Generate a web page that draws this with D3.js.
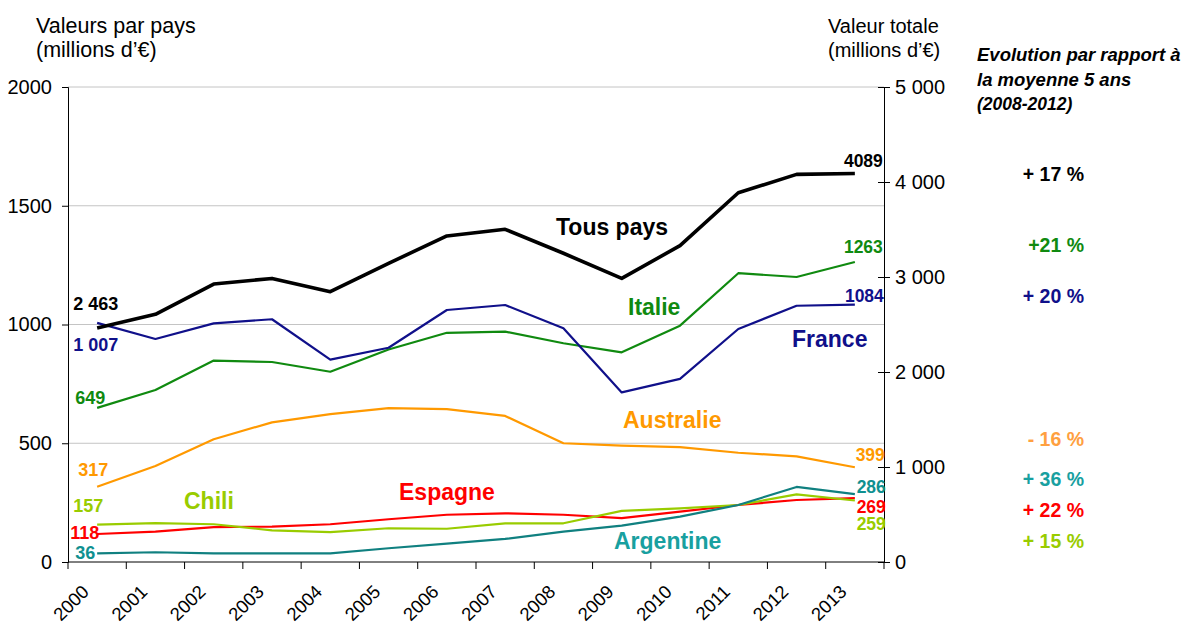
<!DOCTYPE html>
<html>
<head>
<meta charset="utf-8">
<script src="https://cdn.jsdelivr.net/npm/d3@7"></script>
<style>
  body { margin: 0; background: #fff; }
  svg text { font-family: "Liberation Sans", Arial, sans-serif; }
</style>
</head>
<body>
<svg id="chart" width="1197" height="624"></svg>
<script>
// donnees
const years = ["2000","2001","2002","2003","2004","2005","2006","2007","2008","2009","2010","2011","2012","2013"];
const tousPays  = [2463, 2607, 2926, 2985, 2845, 3144, 3432, 3502, 3250, 2986, 3330, 3887, 4080, 4089];
const italie    = [649, 724, 848, 842, 801, 895, 965, 970, 921, 883, 995, 1216, 1200, 1263];
const france    = [1007, 939, 1005, 1022, 852, 902, 1061, 1082, 984, 714, 771, 981, 1079, 1084];
const australie = [317, 404, 517, 588, 623, 648, 644, 615, 500, 490, 484, 460, 445, 399];
const espagne   = [118, 128, 147, 149, 159, 180, 199, 205, 199, 185, 212, 240, 261, 269];
const chili     = [157, 164, 159, 133, 126, 142, 140, 163, 163, 215, 226, 240, 285, 259];
const argentine = [36, 41, 36, 36, 36, 58, 77, 97, 128, 153, 191, 240, 316, 286];

const seriesNames = ["Australie", "Italie", "France", "Espagne", "Chili", "Argentine", "Tous pays"];
const firstLabels = ["317", "649", "1 007", "118", "157", "36", "2 463"];
const lastLabels  = ["399", "1263", "1084", "269", "259", "286", "4089"];
const evolution   = ["- 16 %", "+21 %", "+ 20 %", "+ 22 %", "+ 15 %", "+ 36 %", "+ 17 %"];
const leftTicks  = [0, 500, 1000, 1500, 2000];
const rightTicks = [0, 1000, 2000, 3000, 4000, 5000];

const values = [australie, italie, france, espagne, chili, argentine, tousPays];

// mise en forme
const styles = [
  {color: "#ff9900", text: "#ff9900", pct: "#ffa040", w: 2.2, right: false, name: [623, 428], first: [-19, -11], last: [30, -6], py: 446},
  {color: "#108a10", text: "#108a10", pct: "#108a10", w: 2.2, right: false, name: [628, 315], first: [-22, -4], last: [28, -9], py: 252},
  {color: "#10108a", text: "#10108a", pct: "#10108a", w: 2.2, right: false, name: [792, 347], first: [-24, 28], last: [29, -3], py: 303},
  {color: "#ff0000", text: "#ff0000", pct: "#ff0000", w: 2.2, right: false, name: [399, 500], first: [-27, 5], last: [31, 15], py: 517},
  {color: "#99cc00", text: "#99cc00", pct: "#99cc00", w: 2.2, right: false, name: [184, 509], first: [-24, -13], last: [31, 30], py: 548},
  {color: "#108080", text: "#109090", pct: "#18a0a0", w: 2.2, right: false, name: [614, 549], first: [-22, 6], last: [31, -1], py: 486},
  {color: "#000000", text: "#000000", pct: "#000000", w: 3.6, right: true,  name: [556, 235], first: [-24, -18], last: [28, -7], py: 181}
];
const nameColors = ["#ff9900", "#108a10", "#10108a", "#ff0000", "#99cc00", "#18a0a0", "#000000"];

const svg = d3.select("#chart");
const pLeft = 68, pRight = 884, pTop = 87, pBottom = 562;

const x = d3.scaleBand().domain(years).range([pLeft, pRight]);
const cx = d => x(d) + x.bandwidth() / 2;
const yL = d3.scaleLinear().domain([0, 2000]).range([pBottom, pTop]);
const yR = d3.scaleLinear().domain([0, 5000]).range([pBottom, pTop]);
const fr = d3.formatLocale({decimal: ",", thousands: "\u00a0", grouping: [3], currency: ["", " €"]});

// grille
svg.append("g").selectAll("line").data(leftTicks.filter(t => t > 0)).join("line")
  .attr("x1", pLeft).attr("x2", pRight)
  .attr("y1", d => yL(d)).attr("y2", d => yL(d))
  .attr("stroke", "#c4c4c4").attr("stroke-width", 1);

// axe gauche
const gL = svg.append("g").attr("transform", `translate(${pLeft},0)`)
  .call(d3.axisLeft(yL).tickValues(leftTicks).tickSizeOuter(0).tickSize(6).tickPadding(10).tickFormat(d3.format("d")));
gL.selectAll("text").attr("font-size", 20).attr("fill", "#000");
gL.selectAll("line, path").attr("stroke", "#000");

// axe droit
const gR = svg.append("g").attr("transform", `translate(${pRight},0)`)
  .call(d3.axisRight(yR).tickValues(rightTicks).tickSizeOuter(0).tickSize(6).tickPadding(5).tickFormat(fr.format(",d")));
gR.selectAll(".tick line").attr("x1", -6);
gR.selectAll("text").attr("font-size", 20).attr("fill", "#000");
gR.selectAll("line, path").attr("stroke", "#000");

// axe du bas
const gB = svg.append("g");
gB.append("line").attr("x1", pLeft).attr("x2", pRight).attr("y1", pBottom).attr("y2", pBottom).attr("stroke", "#000");
gB.selectAll("line.t").data(years.map(d => x(d)).concat([pRight])).join("line").attr("class", "t")
  .attr("x1", d => d).attr("x2", d => d).attr("y1", pBottom).attr("y2", pBottom + 7).attr("stroke", "#000");
gB.selectAll("text").data(years).join("text")
  .attr("transform", d => `translate(${cx(d) - 7},${593}) rotate(-45)`)
  .attr("text-anchor", "end").attr("font-size", 18.5).attr("fill", "#000")
  .text(d => d);

// courbes
values.forEach((vals, i) => {
  const s = styles[i];
  const y = s.right ? yR : yL;
  const line = d3.line().x((v, j) => cx(years[j])).y(v => y(v));
  svg.append("path").datum(vals).attr("d", line)
    .attr("fill", "none").attr("stroke", s.color).attr("stroke-width", s.w)
    .attr("stroke-linejoin", "round");

  const x0 = cx(years[0]), y0 = y(vals[0]);
  svg.append("text").attr("x", x0 + s.first[0]).attr("y", y0 + s.first[1])
    .attr("font-size", 18).attr("font-weight", "bold").attr("fill", s.text).text(firstLabels[i]);
  const n = vals.length - 1;
  const x1 = cx(years[n]), y1 = y(vals[n]);
  svg.append("text").attr("x", x1 + s.last[0]).attr("y", y1 + s.last[1])
    .attr("text-anchor", "end")
    .attr("font-size", 17.5).attr("font-weight", "bold").attr("fill", s.text).text(lastLabels[i]);

  svg.append("text").attr("x", s.name[0]).attr("y", s.name[1])
    .attr("font-size", 23).attr("font-weight", "bold").attr("fill", nameColors[i]).text(seriesNames[i]);

  svg.append("text").attr("x", 1084).attr("y", s.py).attr("text-anchor", "end")
    .attr("font-size", 19.5).attr("font-weight", "bold").attr("fill", s.pct).text(evolution[i]);
});

// titres
const tl = svg.append("text").attr("font-size", 21.5).attr("fill", "#000");
tl.append("tspan").attr("x", 36).attr("y", 33).text("Valeurs par pays");
tl.append("tspan").attr("x", 36).attr("y", 57).text("(millions d\u2019\u20ac)");
const tr = svg.append("text").attr("font-size", 20).attr("fill", "#000");
tr.append("tspan").attr("x", 828).attr("y", 33).text("Valeur totale");
tr.append("tspan").attr("x", 828).attr("y", 57).text("(millions d\u2019\u20ac)");
const te = svg.append("text").attr("font-size", 18.5).attr("font-weight", "bold").attr("font-style", "italic").attr("fill", "#000");
te.append("tspan").attr("x", 977).attr("y", 61).text("Evolution par rapport à");
te.append("tspan").attr("x", 977).attr("y", 86).text("la moyenne 5 ans");
te.append("tspan").attr("x", 977).attr("y", 110).attr("font-size", 17.5).text("(2008-2012)");
</script>
</body>
</html>
